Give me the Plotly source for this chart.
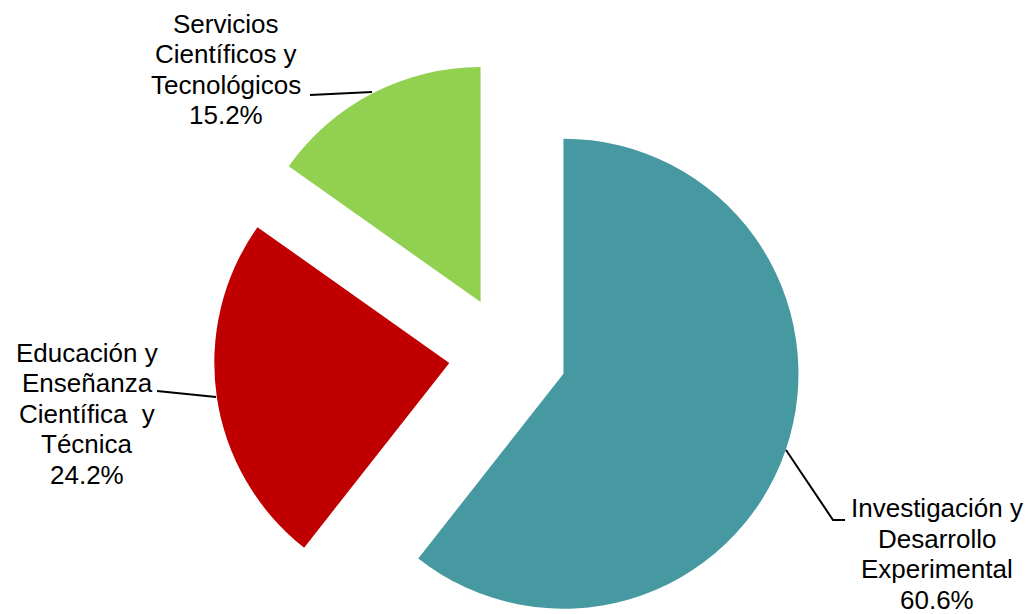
import math
import plotly.graph_objects as go

# ---- data ----
categories = ["Investigación y Desarrollo Experimental",
              "Educación y Enseñanza Científica y Técnica",
              "Servicios Científicos y Tecnológicos"]
values = [60.6, 24.2, 15.2]
colors = ["#4799A1", "#C00000", "#92D050"]
label_lines = [
    ["Investigación y", "Desarrollo", "Experimental", "60.6%"],
    ["Educación y", "Enseñanza", "Científica\u00a0 y", "Técnica", "24.2%"],
    ["Servicios", "Científicos y", "Tecnológicos", "15.2%"],
]

# ---- layout constants (pixels) ----
W, H = 1030, 614
CX, CY = 507.7, 354.4     # centre of the un-exploded pie
R = 235                   # pie radius
PULL = 59                 # explosion distance
FONT_SIZE = 26
LINE_GAP = 30.5

fig = go.Figure()
total = sum(values)
start = 0.0
for i, v in enumerate(values):
    mid = (start + v / 2) / total * 2 * math.pi   # clockwise from 12 o'clock
    start += v
    cx = CX + PULL * math.sin(mid)
    cy = CY - PULL * math.cos(mid)
    cols = ["rgba(0,0,0,0)"] * len(values)
    cols[i] = colors[i]
    fig.add_trace(go.Pie(
        labels=categories, values=values, sort=False, direction="clockwise",
        rotation=0, marker=dict(colors=cols, line=dict(width=0)),
        textinfo="none", hoverinfo="skip", showlegend=False,
        domain=dict(x=[(cx - R) / W, (cx + R) / W],
                    y=[1 - (cy + R) / H, 1 - (cy - R) / H]),
    ))

def px(x, y):
    return x / W, 1 - y / H

# (centre x, baseline of first line)
label_pos = [(937, 517.5), (87, 361.7), (225.5, 32.7)]
for lines, (lx, base) in zip(label_lines, label_pos):
    for k, line in enumerate(lines):
        b = base + k * LINE_GAP
        ax, ay = px(lx, b - 0.3465 * FONT_SIZE)
        fig.add_annotation(x=ax, y=ay, xref="paper", yref="paper", text=line,
                           showarrow=False, xanchor="center", yanchor="middle",
                           align="center", borderpad=0,
                           font=dict(family="Liberation Sans, Arial",
                                     size=FONT_SIZE, color="#000000"))

leaders = [
    [(786, 450), (833, 520), (845, 520)],
    [(157, 391), (216, 397)],
    [(310, 95), (372, 92)],
]
for pts in leaders:
    path = "M " + " L ".join(f"{px(x, y)[0]:.5f},{px(x, y)[1]:.5f}" for x, y in pts)
    fig.add_shape(type="path", path=path, xref="paper", yref="paper",
                  line=dict(color="black", width=2))

fig.update_layout(width=W, height=H, margin=dict(l=0, r=0, t=0, b=0),
                  paper_bgcolor="white", plot_bgcolor="white")
fig.write_html("out.html", config={"displayModeBar": False},
               post_script="document.body.style.margin='0';"
                           "document.body.style.overflow='hidden';")
